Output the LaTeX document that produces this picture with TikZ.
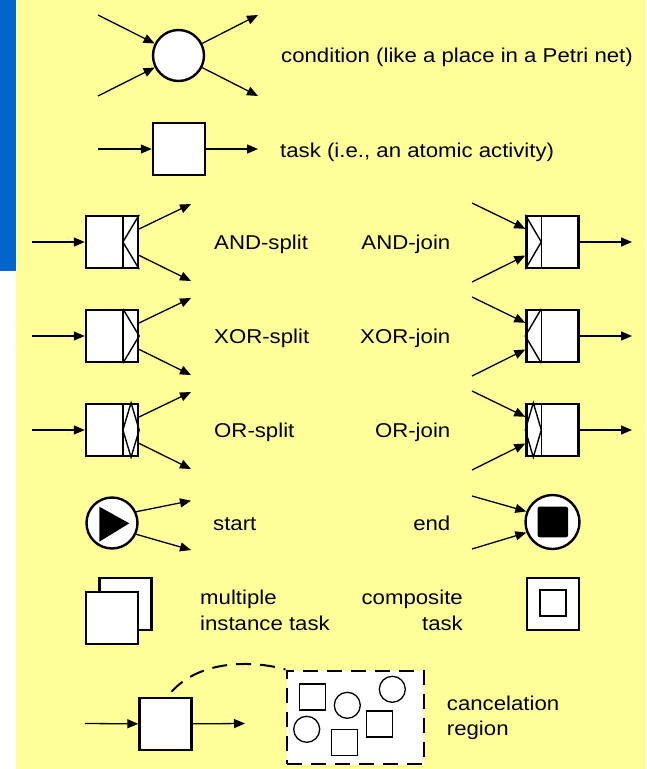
\documentclass[tikz,border=0pt]{standalone}
\usepackage{fontspec}
\setmainfont[FakeStretch=1.11]{Liberation Sans}
\usetikzlibrary{arrows.meta,calc}
\definecolor{bgyellow}{HTML}{FFFF99}
\definecolor{barblue}{HTML}{0066CC}
\begin{document}
\begin{tikzpicture}[x=1pt,y=-1pt,
  box/.style={draw,line width=2.4pt,fill=white,minimum size=52pt,inner sep=0pt},
  cond/.style={circle,draw,line width=2.4pt,fill=white,minimum size=51pt,inner sep=0pt},
  flow/.style={line width=1.3pt,-{Triangle[length=11pt,width=9pt]}},
  inner/.style={line width=1.4pt},
  small/.style={draw,line width=1.3pt,fill=white,inner sep=0pt},
  lbl/.style={font=\fontsize{20}{25.5}\selectfont,inner sep=0pt},
  dashline/.style={line width=2pt,dash pattern=on 15pt off 9pt},
]
\useasboundingbox (0,0) rectangle (646,769);
\fill[white] (0,0) rectangle (646,769);
\fill[bgyellow] (16,0) rectangle (646,769);
\fill[barblue] (0,0) rectangle (16,271);

% condition
\node[cond] (cond) at (178.5,55.5) {};
\coordinate (ci1) at (98,15);
\coordinate (ci2) at (98,96);
\coordinate (co1) at (258,15);
\coordinate (co2) at (258,96);
\draw[flow] (ci1) -- (cond);
\draw[flow] (ci2) -- (cond);
\draw[flow] (cond) -- (co1);
\draw[flow] (cond) -- (co2);
\node[lbl,anchor=base west] (tcond) at (281,62.3) {condition (like a place in a Petri net)};

% task
\node[box] (task) at (179,149) {};
\coordinate (ti) at (98,149);
\coordinate (to) at (258,149);
\draw[flow] (ti) -- (task);
\draw[flow] (task) -- (to);
\node[lbl,anchor=base west] (ttask) at (280,157.5) {task (i.e., an atomic activity)};

% splits
\foreach \n/\y in {s1/242,s2/336,s3/430}{
  \node[box] (\n) at (112,\y) {};
  \coordinate (\n i) at (32,\y);
  \coordinate (\n o1) at (191,\y-38);
  \coordinate (\n o2) at (191,\y+39);
  \draw[flow] (\n i) -- (\n);
  \draw[flow] (\n) -- (\n o1);
  \draw[flow] (\n) -- (\n o2);
  \draw[inner] ($(\n.north east)+(-16.3,0)$) -- ($(\n.south east)+(-16.3,0)$);
}
\draw[inner] (s1.north east) -- ($(s1.east)+(-16.3,0)$) -- (s1.south east);
\draw[inner] ($(s2.north east)+(-16.3,0)$) -- (s2.east) -- ($(s2.south east)+(-16.3,0)$);
\draw[inner] ($(s3.north east)+(-8.15,0)$) -- (s3.east) -- ($(s3.south east)+(-8.15,0)$) -- ($(s3.east)+(-16.3,0)$) -- cycle;

% joins
\foreach \n/\y in {j1/242,j2/336,j3/430}{
  \node[box] (\n) at (552.5,\y) {};
  \coordinate (\n i1) at (472,\y-39);
  \coordinate (\n i2) at (472,\y+40);
  \coordinate (\n o) at (632,\y);
  \draw[flow] (\n i1) -- (\n);
  \draw[flow] (\n i2) -- (\n);
  \draw[flow] (\n) -- (\n o);
  \draw[inner] ($(\n.north west)+(16,0)$) -- ($(\n.south west)+(16,0)$);
}
\draw[inner] (j1.north west) -- ($(j1.west)+(16,0)$) -- (j1.south west);
\draw[inner] ($(j2.north west)+(16,0)$) -- (j2.west) -- ($(j2.south west)+(16,0)$);
\draw[inner] ($(j3.north west)+(8,0)$) -- (j3.west) -- ($(j3.south west)+(8,0)$) -- ($(j3.west)+(16,0)$) -- cycle;

\node[lbl,anchor=base west] (tas) at (214,249.3) {AND-split};
\node[lbl,anchor=base west] (txs) at (214,343.3) {XOR-split};
\node[lbl,anchor=base west] (tos) at (214,437.3) {OR-split};
\node[lbl,anchor=base east] (taj) at (450.5,249.3) {AND-join};
\node[lbl,anchor=base east] (txj) at (450.5,343.3) {XOR-join};
\node[lbl,anchor=base east] (toj) at (450.5,437.3) {OR-join};

% start
\node[cond] (start) at (112,523) {};
\fill (99.3,506.7) -- (99.3,541.7) -- (129.3,523.3) -- cycle;
\coordinate (so1) at (191,500.7);
\coordinate (so2) at (191,550);
\draw[flow] (start.25) -- (so1);
\draw[flow] (start.-25) -- (so2);
\node[lbl,anchor=base west] (tstart) at (213,530.3) {start};

% end
\node[cond,minimum size=54pt] (end) at (552.5,522) {};
\fill[rounded corners=2pt] (537.7,506.7) rectangle (568,537.3);
\coordinate (ei1) at (472,496);
\coordinate (ei2) at (472,549);
\draw[flow] (ei1) -- (end.158);
\draw[flow] (ei2) -- (end.202);
\node[lbl,anchor=base east] (tend) at (450.5,530.3) {end};

% multiple instance
\node[box] (mi2) at (125.3,603.7) {};
\node[box] (mi1) at (112,617.7) {};
\node[lbl,anchor=base west] (tmi) at (200,604.5) {\begin{tabular}[t]{@{}l@{}}multiple\\instance task\end{tabular}};

% composite
\node[box] (comp) at (553,604) {};
\node[draw,line width=2pt,fill=white,minimum size=26pt,inner sep=0pt] (compin) at (553,603.3) {};
\node[lbl,anchor=base east] (tcomp) at (463,604.5) {\begin{tabular}[t]{@{}r@{}}composite\\task\end{tabular}};

% cancelation
\node[box] (ct) at (165.5,724) {};
\coordinate (cti) at (85,723.5);
\coordinate (cto) at (245,723.5);
\draw[flow] (cti) -- (ct);
\draw[flow] (ct) -- (cto);
\node[draw,dashline,fill=white,minimum width=137pt,minimum height=93pt,inner sep=0pt] (cr) at (355,717) {};
\draw[dashline] ($(ct.north)+(6,-5)$) .. controls (200,660) and (252,660) .. (cr.north west);
\node[small,minimum size=26pt] (q1) at (312.7,697) {};
\node[small,circle,minimum size=26pt] (k1) at (347.3,705.3) {};
\node[small,circle,minimum size=26pt] (k2) at (392.3,689.3) {};
\node[small,circle,minimum size=26pt] (k3) at (306.7,729.3) {};
\node[small,minimum size=26pt] (q2) at (379.3,724) {};
\node[small,minimum size=26pt] (q3) at (344.3,742.7) {};
\node[lbl,anchor=base west] (tcr) at (446.7,710) {\begin{tabular}[t]{@{}l@{}}cancelation\\region\end{tabular}};
\end{tikzpicture}
\end{document}
